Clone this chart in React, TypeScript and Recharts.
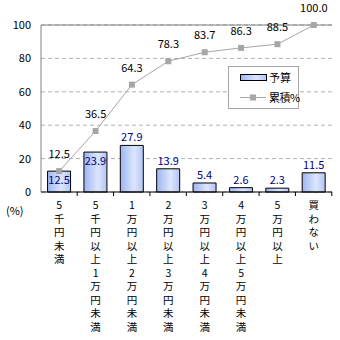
import { ComposedChart, Bar, Line, XAxis, YAxis, CartesianGrid, LabelList, ReferenceLine } from "recharts";

// spending brackets, each label drawn one character per row
const categories = [
  "5千円未満",
  "5千円以上1万円未満",
  "1万円以上2万円未満",
  "2万円以上3万円未満",
  "3万円以上4万円未満",
  "4万円以上5万円未満",
  "5万円以上",
  "買わない",
];
const budget = [12.5, 23.9, 27.9, 13.9, 5.4, 2.6, 2.3, 11.5];
const cumulative = [12.5, 36.5, 64.3, 78.3, 83.7, 86.3, 88.5, 100.0];
const yTicks = [0, 20, 40, 60, 80, 100];

const data = categories.map((name, i) => ({
  name,
  budget: budget[i],
  cumulative: cumulative[i],
}));

const FONT = "'Noto Sans CJK JP', 'Noto Sans', sans-serif";
const GRAY = "#a6a6a6";
const AXIS_Y = 192;

const VerticalTick = (props: any) => {
  const { x, payload } = props;
  const chars = Array.from(String(payload.value));
  return (
    <g>
      <line x1={x + 18} y1={AXIS_Y} x2={x + 18} y2={AXIS_Y + 4} stroke="#000" />
      <text x={x} y={AXIS_Y + 17} textAnchor="middle" fontSize={10.5} fontFamily={FONT} fill="#000">
        {chars.map((c, i) => (
          <tspan key={i} x={x} dy={i === 0 ? 0 : 13.5}>
            {c}
          </tspan>
        ))}
      </text>
    </g>
  );
};

const BarLabel = (props: any) => {
  const { x, y, width, value, index } = props;
  // the first two sit inside the bar, where the line labels would collide
  const inside = index < 2;
  return (
    <text
      x={x + width / 2}
      y={inside ? y + 13 : y - 4}
      textAnchor="middle"
      fontSize={11}
      fontFamily={FONT}
      fill="#000080"
    >
      {value.toFixed(1)}
    </text>
  );
};

const LineLabel = (props: any) => {
  const { x, y, value } = props;
  return (
    <text x={x} y={y - 13} textAnchor="middle" fontSize={11} fontFamily={FONT} fill="#000">
      {value.toFixed(1)}
    </text>
  );
};

const SquareDot = (props: any) => {
  const { cx, cy } = props;
  return <rect x={cx - 3} y={cy - 3} width={6} height={6} fill={GRAY} />;
};

const LegendBox = () => (
  <svg
    width={72}
    height={44}
    style={{ position: "absolute", left: 228, top: 66, background: "#fff" }}
  >
    <rect x={0.5} y={0.5} width={70} height={42} fill="#fff" stroke={GRAY} />
    <rect x={12.5} y={8.5} width={26} height={6} fill="url(#legendGrad)" stroke="#000" />
    <text x={41} y={16} fontSize={11} fontFamily={FONT}>予算</text>
    <line x1={12} y1={31.5} x2={38} y2={31.5} stroke={GRAY} />
    <rect x={22} y={28.5} width={6} height={6} fill={GRAY} />
    <text x={41} y={36} fontSize={11} fontFamily={FONT} letterSpacing={-0.5}>累積%</text>
    <defs>
      <linearGradient id="legendGrad" x1="0" y1="0" x2="1" y2="0">
        <stop offset="0%" stopColor="#9fb5f1" />
        <stop offset="60%" stopColor="#dde6fd" />
        <stop offset="100%" stopColor="#b3c5f4" />
      </linearGradient>
    </defs>
  </svg>
);

export default function App() {
  return (
    <div style={{ position: "absolute", left: 0, top: 0, width: 340, height: 340, background: "#fff" }}>
      <ComposedChart
        width={340}
        height={340}
        data={data}
        margin={{ top: 25, right: 8, bottom: 0, left: 0 }}
        barCategoryGap="18%"
      >
        <defs>
          <linearGradient id="barGrad" x1="0" y1="0" x2="1" y2="0">
            <stop offset="0%" stopColor="#9fb5f1" />
            <stop offset="60%" stopColor="#dde6fd" />
            <stop offset="100%" stopColor="#b3c5f4" />
          </linearGradient>
        </defs>
        <CartesianGrid vertical={false} stroke="#b0b0b0" strokeDasharray="4 3" />
        <XAxis
          dataKey="name"
          height={148}
          interval={0}
          tickLine={false}
          axisLine={{ stroke: "#000" }}
          tick={<VerticalTick />}
        />
        <YAxis
          domain={[0, 100]}
          ticks={yTicks}
          width={41}
          tickLine={false}
          tickSize={0}
          tickMargin={10}
          axisLine={{ stroke: "#808080" }}
          tick={{ fontSize: 11, fontFamily: FONT, fill: "#000" }}
        />
        <YAxis yAxisId="r" orientation="right" domain={[0, 100]} width={0} tick={false} tickLine={false} axisLine={{ stroke: "#808080" }} />
        <ReferenceLine y={100} stroke="#808080" />
        <Bar dataKey="budget" fill="url(#barGrad)" stroke="#000" strokeWidth={1} isAnimationActive={false}>
          <LabelList dataKey="budget" content={<BarLabel />} />
        </Bar>
        <Line
          dataKey="cumulative"
          stroke={GRAY}
          strokeWidth={1}
          dot={<SquareDot />}
          activeDot={false}
          isAnimationActive={false}
        >
          <LabelList dataKey="cumulative" content={<LineLabel />} />
        </Line>
      </ComposedChart>
      <LegendBox />
      <div style={{ position: "absolute", left: 6, top: 202, fontSize: 11, fontFamily: FONT }}>(%)</div>
    </div>
  );
}
